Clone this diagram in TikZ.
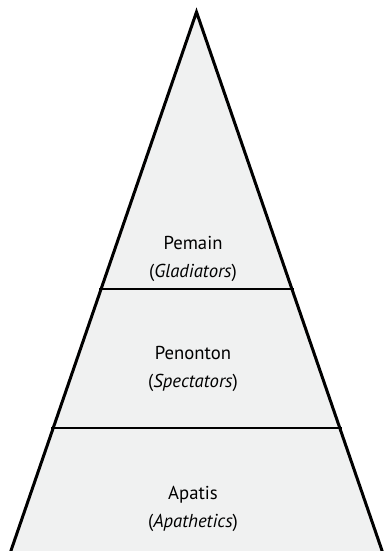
\documentclass[tikz,border=0pt]{standalone}
\usepackage{fontspec}
\setmainfont{PT Sans}
\definecolor{tierfill}{HTML}{F0F1F1}
\begin{document}
\begin{tikzpicture}[x=1pt,y=-1pt,
  tierlabel/.style={align=center,font=\fontsize{18.7}{28}\selectfont,inner sep=0pt},
  edge/.style={line width=3pt,line join=miter},
  divider/.style={line width=2.4pt}]
\useasboundingbox (0,0) rectangle (386,551);
\clip (0,0) rectangle (386,551);
\coordinate (apex) at (196.5,12);
\coordinate (bl) at (4.3,570);
\coordinate (br) at (388.7,570);
\fill[tierfill] (apex) -- (bl) -- (br) -- cycle;
\draw[edge] (bl) -- (apex) -- (br);
\coordinate (l1) at (99,289);
\coordinate (r1) at (294,289);
\coordinate (l2) at (51,428);
\coordinate (r2) at (342,428);
\draw[divider] (l1) -- (r1);
\draw[divider] (l2) -- (r2);
\node[tierlabel] (top) at (193,259) {Pemain\\(\textit{Gladiators})};
\node[tierlabel] (mid) at (193,369) {Penonton\\(\textit{Spectators})};
\node[tierlabel] (bot) at (193,509) {Apatis\\(\textit{Apathetics})};
\end{tikzpicture}
\end{document}
